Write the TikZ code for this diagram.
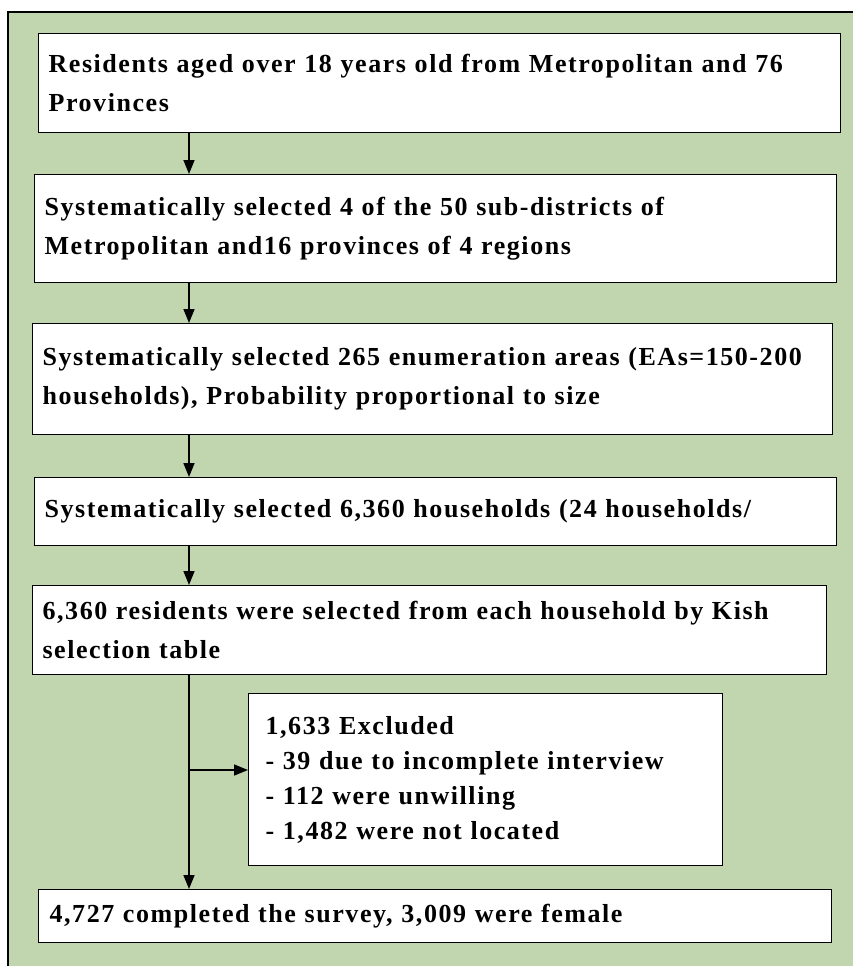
\documentclass[tikz,border=0pt]{standalone}
\usepackage{fontspec}
\setmainfont{Liberation Serif}
\usetikzlibrary{arrows.meta}
\definecolor{sagebg}{RGB}{193,214,175}
\tikzset{stage/.style={draw=black, fill=white, line width=1.2pt, anchor=north west, align=left, inner xsep=10pt, inner ysep=0pt, font=\fontsize{26}{39}\selectfont\bfseries\addfontfeature{LetterSpace=6}},
flow/.style={line width=1.6pt, -{Triangle[length=14pt,width=11pt]}}}

\begin{document}
\begin{tikzpicture}[x=1pt,y=-1pt]
\useasboundingbox (0,0) rectangle (853,966);
% background panel
\draw[fill=sagebg, line width=1.2pt] (8,12) rectangle (870,980);
% create the nodes
\node[stage, text width=782pt, minimum height=99pt] (resid) at (38,33) {Residents aged over 18 years old from Metropolitan and 76\\Provinces};
\node[stage, text width=782pt, minimum height=108pt] (subdist) at (34,174) {Systematically selected 4 of the 50 sub-districts of\\Metropolitan and16 provinces of 4 regions};
\node[stage, text width=780pt, minimum height=111pt] (areas) at (32,323) {Systematically selected 265 enumeration areas (EAs=150-200\\households), Probability proportional to size};
\node[stage, text width=782pt, minimum height=68pt] (house) at (34,477) {Systematically selected 6,360 households (24 households/};
\node[stage, text width=774pt, minimum height=89pt] (kish) at (32,585) {6,360 residents were selected from each household by Kish\\selection table};
\node[stage, inner xsep=17pt, text width=440pt, minimum height=172pt, font=\fontsize{26}{35}\selectfont\bfseries\addfontfeature{LetterSpace=6}] (excl) at (248,693) {1,633 Excluded\\- 39 due to incomplete interview\\- 112 were unwilling\\- 1,482 were not located};
\node[stage, inner xsep=11pt, text width=771pt, minimum height=53pt] (done) at (38,889) {4,727 completed the survey, 3,009 were female};
% connectors along the spine
\coordinate (spine) at (189,0);
\draw[flow] (resid.south -| spine) -- (subdist.north -| spine);
\draw[flow] (subdist.south -| spine) -- (areas.north -| spine);
\draw[flow] (areas.south -| spine) -- (house.north -| spine);
\draw[flow] (house.south -| spine) -- (kish.north -| spine);
\draw[flow] (kish.south -| spine) -- (done.north -| spine);
\coordinate (branch) at (189,770);
\draw[flow] (branch) -- (excl.west |- branch);
\end{tikzpicture}
\end{document}
